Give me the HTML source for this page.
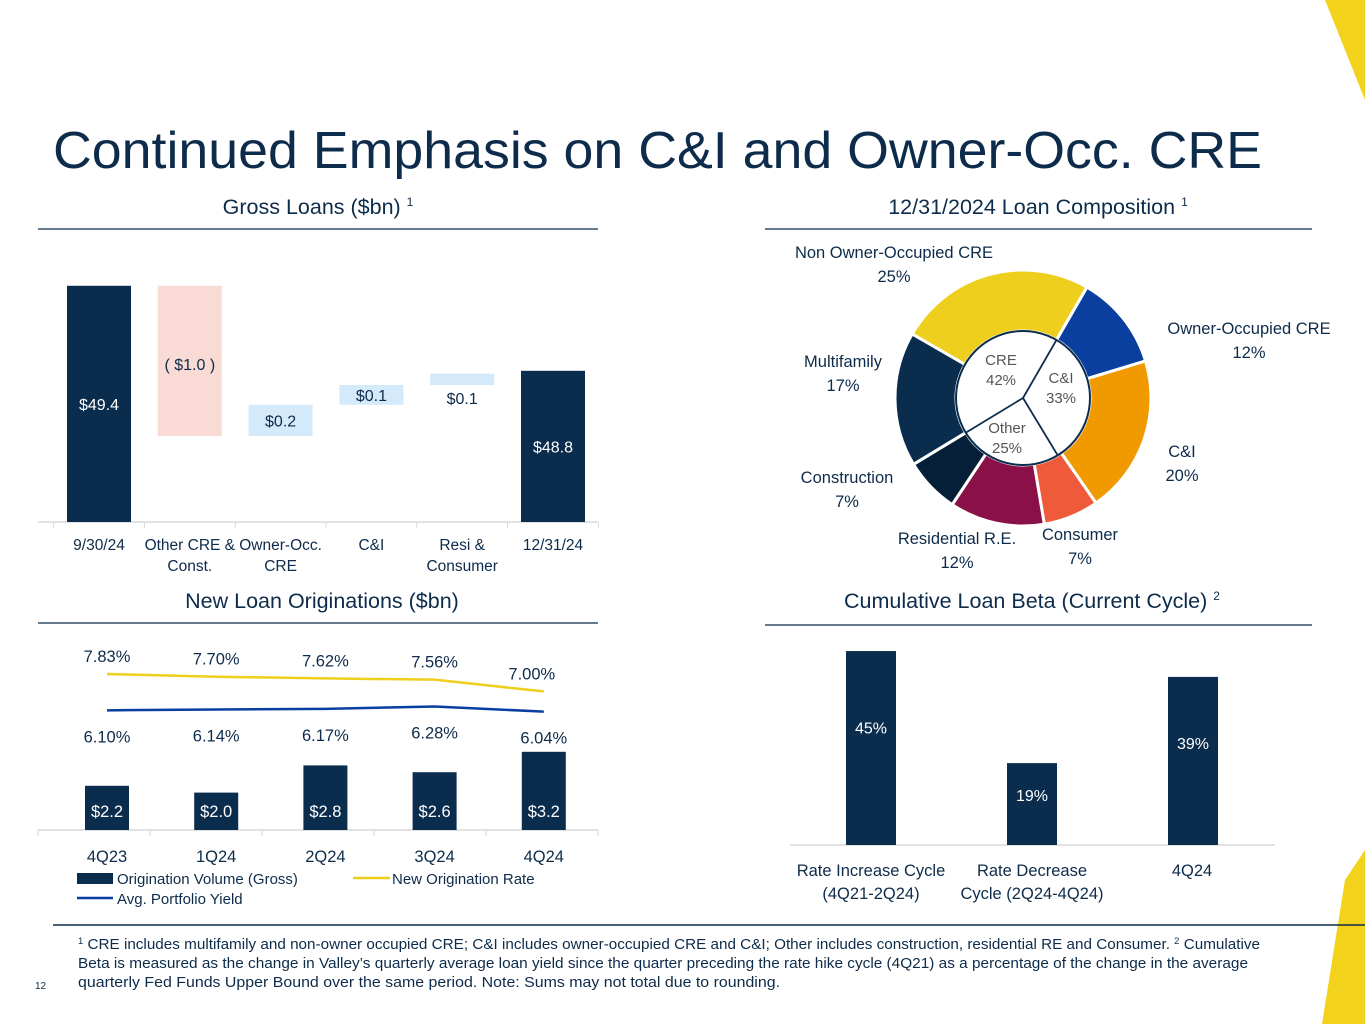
<!DOCTYPE html>
<html><head><meta charset="utf-8">
<style>
html,body{margin:0;padding:0;background:#fff;}
body{width:1365px;height:1024px;overflow:hidden;position:relative;font-family:"Liberation Sans",sans-serif;}
svg{position:absolute;left:0;top:0;}
</style></head>
<body>
<svg id="s" width="1365" height="1024" viewBox="0 0 1365 1024" xmlns="http://www.w3.org/2000/svg" font-family="Liberation Sans, sans-serif">
<polygon points="1325,0 1365,0 1365,100" fill="#f2d21b"/>
<polygon points="1345,880 1365,850 1365,1024 1322,1024" fill="#f2d21b"/>
<text x="53" y="168" font-size="52" textLength="1209" lengthAdjust="spacingAndGlyphs" fill="#0d2b4a">Continued Emphasis on C&amp;I and Owner-Occ. CRE</text>

<text x="318" y="214" font-size="21.5" fill="#0d2b4a" text-anchor="middle">Gross Loans ($bn) <tspan font-size="12" dy="-8">1</tspan></text>
<line x1="38" y1="229" x2="598" y2="229" stroke="#0d2b4a" stroke-width="1.2"/>
<text x="1038" y="214" font-size="21.5" fill="#0d2b4a" text-anchor="middle">12/31/2024 Loan Composition <tspan font-size="12" dy="-8">1</tspan></text>
<line x1="765" y1="229" x2="1312" y2="229" stroke="#0d2b4a" stroke-width="1.2"/>
<text x="322" y="608" font-size="21.5" fill="#0d2b4a" text-anchor="middle">New Loan Originations ($bn)</text>
<line x1="38" y1="623" x2="598" y2="623" stroke="#0d2b4a" stroke-width="1.2"/>
<text x="1032" y="608" font-size="21.5" fill="#0d2b4a" text-anchor="middle">Cumulative Loan Beta (Current Cycle) <tspan font-size="12" dy="-8">2</tspan></text>
<line x1="765" y1="625" x2="1312" y2="625" stroke="#0d2b4a" stroke-width="1.2"/>

<g id="wf"></g>
<g id="donut"></g>
<g id="orig"></g>
<g id="beta"></g>

<line x1="53" y1="925" x2="1365" y2="925" stroke="#0d2b4a" stroke-width="1.5"/>
<g font-size="14.5" fill="#0d2b4a">
<text x="78" y="949" textLength="1182" lengthAdjust="spacingAndGlyphs"><tspan font-size="9" dy="-5">1</tspan><tspan dy="5"> CRE includes multifamily and non-owner occupied CRE; C&amp;I includes owner-occupied CRE and C&amp;I; Other includes construction, residential RE and Consumer.  </tspan><tspan font-size="9" dy="-5">2</tspan><tspan dy="5"> Cumulative</tspan></text>
<text x="78" y="968" textLength="1170" lengthAdjust="spacingAndGlyphs">Beta is measured as the change in Valley’s quarterly average loan yield since the quarter preceding the rate hike cycle (4Q21) as a percentage of the change in the average</text>
<text x="78" y="987" textLength="702" lengthAdjust="spacingAndGlyphs">quarterly Fed Funds Upper Bound over the same period.  Note: Sums may not total due to rounding.</text>
</g>
<text x="35" y="989" font-size="10" fill="#0d2b4a">12</text>
</svg>
<script>
const NS="http://www.w3.org/2000/svg";
const NAVY="#0b2d4d";
// Waterfall data
const wfCategories=[["9/30/24"],["Other CRE &","Const."],["Owner-Occ.","CRE"],["C&I"],["Resi &","Consumer"],["12/31/24"]];
const wfStart=49.4;
const wfDeltas=[-1.06,0.22,0.14,0.08];
const wfEnd=48.8;
const wfLabels=["$49.4","( $1.0 )","$0.2","$0.1","$0.1","$48.8"];
// Donut data
const outerNames=["Non Owner-Occupied CRE","Owner-Occupied CRE","C&I","Consumer","Residential R.E.","Construction","Multifamily"];
const outerValues=[25,12,20,7,12,7,17];
const innerNames=["C&I","Other","CRE"];
const innerValues=[33,25,42];
// Originations data
const origCategories=["4Q23","1Q24","2Q24","3Q24","4Q24"];
const origVolume=[2.2,2.0,2.8,2.6,3.2];
const newOrigRate=[7.83,7.70,7.62,7.56,7.00];
const portfolioYield=[6.10,6.14,6.17,6.28,6.04];
// Beta data
const betaCategories=[["Rate Increase Cycle","(4Q21-2Q24)"],["Rate Decrease","Cycle (2Q24-4Q24)"],["4Q24"]];
const betaValues=[45,19,39];

function el(tag,attrs,parent){const e=document.createElementNS(NS,tag);for(const k in attrs)e.setAttribute(k,attrs[k]);parent.appendChild(e);return e;}
function txt(parent,x,y,s,size,fill,anchor){const t=el("text",{x:x,y:y,"font-size":size,fill:fill,"text-anchor":anchor||"middle"},parent);t.textContent=s;return t;}

// ---- Waterfall
(function(){
 const g=document.getElementById("wf");
 const base=522,vmin=47.733,ppu=141.7;
 const y=v=>base-(v-vmin)*ppu;
 const cx=i=>99+90.8*i;
 el("line",{x1:38,y1:base,x2:598,y2:base,stroke:"#d9d9d9","stroke-width":1.5},g);
 for(let i=0;i<=6;i++){el("line",{x1:cx(i)-45.4,y1:base,x2:cx(i)-45.4,y2:base+6,stroke:"#d9d9d9"},g);}
 const bw=64;
 let run=wfStart;
 const segs=[[vmin,wfStart,NAVY]];
 wfDeltas.forEach(d=>{const a=run,b=run+d;segs.push([Math.min(a,b),Math.max(a,b),d<0?"#fadad5":"#d4eafb"]);run=b;});
 segs.push([vmin,wfEnd,NAVY]);
 segs.forEach((s,i)=>{
  const r=el("rect",{x:cx(i)-bw/2,y:y(s[1]),width:bw,height:y(s[0])-y(s[1]),fill:s[2]},g);
  
  
  let ly=(y(s[0])+y(s[1]))/2+6;
  if(i===1) ly=y(s[1])+84;
  if(i===4) ly=y(s[0])+19;
  const t=txt(g,cx(i),ly,wfLabels[i],16,s[2]===NAVY?"#fff":"#0d2b4a");
  
  
 });
 wfCategories.forEach((c,i)=>{c.forEach((l,j)=>{const t=txt(g,cx(i),550+j*21,l,15.5,"#0d2b4a");
  
  });});
})();

// ---- Donut
(function(){
 const g=document.getElementById("donut");
 const cx=1023,cy=398,R=128,r0=67;
 const colors=["#efcf1e","#0a3fa0","#f09a00","#ef5a3a","#8a1048","#061f38","#0b2d4d"];
 const pt=(a,r)=>[cx+r*Math.sin(a*Math.PI/180),cy-r*Math.cos(a*Math.PI/180)];
 const tot=outerValues.reduce((a,b)=>a+b,0);
 let a=-60;
 outerValues.forEach((v,i)=>{
  const a1=a+v/tot*360;const [x1,y1]=pt(a,R),[x2,y2]=pt(a1,R),[x3,y3]=pt(a1,r0),[x4,y4]=pt(a,r0);
  const lg=(a1-a)>180?1:0;
  const p=el("path",{d:`M${x1},${y1}A${R},${R} 0 ${lg} 1 ${x2},${y2}L${x3},${y3}A${r0},${r0} 0 ${lg} 0 ${x4},${y4}Z`,fill:colors[i],stroke:"#fff","stroke-width":3},g);
  
  
  a=a1;
 });
 el("circle",{cx:cx,cy:cy,r:r0,fill:"#fff",stroke:"#0b2d4d","stroke-width":2},g);
 const itot=innerValues.reduce((a,b)=>a+b,0);
 let b=30;
 innerValues.forEach((v)=>{const [x,y]=pt(b,r0);el("line",{x1:cx,y1:cy,x2:x,y2:y,stroke:"#0b2d4d","stroke-width":1.8},g);b+=v/itot*360;});
 const innerPos=[[1061,383],[1007,433],[1001,365]];
 innerNames.forEach((n,i)=>{
  const t1=txt(g,innerPos[i][0],innerPos[i][1],n,15,"#555");
  
  
  const t2=txt(g,innerPos[i][0],innerPos[i][1]+20,innerValues[i]+"%",15,"#555");
  
  
 });
 const lp=[[894,258],[1249,334],[1182,457],[1080,540],[957,544],[847,483],[843,367]];
 outerNames.forEach((n,i)=>{
  const t1=txt(g,lp[i][0],lp[i][1],n,16.5,"#0d2b4a");
  
  
  const t2=txt(g,lp[i][0],lp[i][1]+24,outerValues[i]+"%",16.5,"#0d2b4a");
  
  
 });
})();

// ---- Originations
(function(){
 const g=document.getElementById("orig");
 const base=830,vmin=0.9,ppu=34;
 const cx=i=>107+109.2*i;
 const yv=v=>base-(v-vmin)*ppu;
 const yr=v=>674-(v-7.83)*21;
 el("line",{x1:38,y1:base,x2:598,y2:base,stroke:"#d9d9d9","stroke-width":1.5},g);
 for(let i=0;i<=5;i++)el("line",{x1:38+112*i,y1:base,x2:38+112*i,y2:base+6,stroke:"#d9d9d9"},g);
 origVolume.forEach((v,i)=>{
  const r=el("rect",{x:cx(i)-22,y:yv(v),width:44,height:base-yv(v),fill:NAVY},g);
  
  
  const t=txt(g,cx(i),817,"$"+v.toFixed(1),16.5,"#fff");
  
  
  const c=txt(g,cx(i),862,origCategories[i],16.5,"#0d2b4a");
  
  
 });
 const l1=el("polyline",{points:newOrigRate.map((v,i)=>cx(i)+","+yr(v)).join(" "),fill:"none",stroke:"#efcf1e","stroke-width":2.5},g);
 
 
 const l2=el("polyline",{points:portfolioYield.map((v,i)=>cx(i)+","+yr(v)).join(" "),fill:"none",stroke:"#0a3fa0","stroke-width":2.5},g);
 
 
 newOrigRate.forEach((v,i)=>{const t=txt(g,cx(i)+(i===4?-12:0),yr(v)-12,v.toFixed(2)+"%",16.5,"#0d2b4a");
  
  });
 portfolioYield.forEach((v,i)=>{const t=txt(g,cx(i),yr(v)+32,v.toFixed(2)+"%",16.5,"#0d2b4a");
  
  });
 // legend
 el("rect",{x:77,y:873,width:36,height:11,fill:NAVY},g);
 txt(g,117,884,"Origination Volume (Gross)",15,"#0d2b4a","start");
 el("line",{x1:353,y1:878,x2:390,y2:878,stroke:"#efcf1e","stroke-width":2.5},g);
 txt(g,392,884,"New Origination Rate",15,"#0d2b4a","start");
 el("line",{x1:77,y1:898,x2:113,y2:898,stroke:"#0a3fa0","stroke-width":2.5},g);
 txt(g,117,904,"Avg. Portfolio Yield",15,"#0d2b4a","start");
})();

// ---- Beta
(function(){
 const g=document.getElementById("beta");
 const base=845,ppu=4.31,centers=[871,1032,1193];
 el("line",{x1:790,y1:base,x2:1275,y2:base,stroke:"#d9d9d9","stroke-width":1.5},g);
 betaValues.forEach((v,i)=>{
  const h=v*ppu;
  const r=el("rect",{x:centers[i]-25,y:base-h,width:50,height:h,fill:NAVY},g);
  
  
  const t=txt(g,centers[i],base-h+h*0.4+5,v+"%",16,"#fff");
  
  
  betaCategories[i].forEach((l,j)=>{const c=txt(g,centers[i]+(i===2?-1:0),876+j*23,l,16.5,"#0d2b4a");
   
   });
 });
})();
</script>
</body></html>
